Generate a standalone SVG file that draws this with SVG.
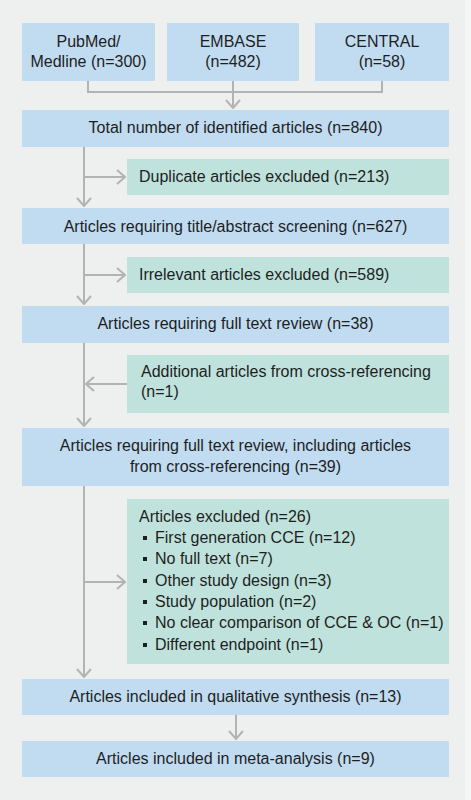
<svg xmlns="http://www.w3.org/2000/svg" width="471" height="800" viewBox="0 0 471 800">
<style>
.blue{fill:#c1dcf1}
.green{fill:#bfe3dc}
.t{font-family:"Liberation Sans",Arial,sans-serif;font-size:16px;fill:#1e1e1e}
.c{text-anchor:middle}
.ln{fill:none;stroke:#b3b3b3;stroke-width:2}
</style>
<defs>
<marker id="ah" viewBox="0 0 10 16" refX="9" refY="8" markerWidth="10" markerHeight="16" markerUnits="userSpaceOnUse" orient="auto">
<path d="M1,1 L9,8 L1,15" fill="none" stroke="#b3b3b3" stroke-width="2"/>
</marker>
</defs>
<rect width="471" height="800" fill="#f4f5f5"/>
<rect width="465" height="800" fill="#eef0ef"/>

<g id="connectors">
<path class="ln" d="M88,81 V92 H382 V81"/>
<path class="ln" d="M233,81 V108" marker-end="url(#ah)"/>
<path class="ln" d="M84,147 V206" marker-end="url(#ah)"/>
<path class="ln" d="M84,177 H125" marker-end="url(#ah)"/>
<path class="ln" d="M84,244 V304" marker-end="url(#ah)"/>
<path class="ln" d="M84,275 H125" marker-end="url(#ah)"/>
<path class="ln" d="M84,343 V426" marker-end="url(#ah)"/>
<path class="ln" d="M127,384 H86" marker-end="url(#ah)"/>
<path class="ln" d="M84,486 V677" marker-end="url(#ah)"/>
<path class="ln" d="M84,582 H125" marker-end="url(#ah)"/>
<path class="ln" d="M236,715 V739" marker-end="url(#ah)"/>
</g>

<g id="pubmed">
<rect class="blue" x="22" y="23" width="133" height="58"/>
<text class="t c" x="88.5" y="47">PubMed/</text>
<text class="t c" x="88.5" y="67">Medline (n=300)</text>
</g>
<g id="embase">
<rect class="blue" x="167" y="23" width="132" height="58"/>
<text class="t c" x="233" y="47">EMBASE</text>
<text class="t c" x="233" y="67">(n=482)</text>
</g>
<g id="central">
<rect class="blue" x="315" y="23" width="134" height="58"/>
<text class="t c" x="382" y="47">CENTRAL</text>
<text class="t c" x="382" y="67">(n=58)</text>
</g>
<g id="total">
<rect class="blue" x="22" y="110" width="427" height="37"/>
<text class="t c" x="235.5" y="133">Total number of identified articles (n=840)</text>
</g>
<g id="duplicate">
<rect class="green" x="127" y="159" width="322" height="36"/>
<text class="t" x="139" y="182">Duplicate articles excluded (n=213)</text>
</g>
<g id="screening">
<rect class="blue" x="22" y="208" width="427" height="36"/>
<text class="t c" x="235.5" y="232">Articles requiring title/abstract screening (n=627)</text>
</g>
<g id="irrelevant">
<rect class="green" x="127" y="257" width="322" height="36"/>
<text class="t" x="139" y="280">Irrelevant articles excluded (n=589)</text>
</g>
<g id="fulltext">
<rect class="blue" x="22" y="306" width="427" height="37"/>
<text class="t c" x="235.5" y="329">Articles requiring full text review (n=38)</text>
</g>
<g id="additional">
<rect class="green" x="127" y="355" width="322" height="58"/>
<text class="t" x="141" y="377">Additional articles from cross-referencing</text>
<text class="t" x="141" y="397">(n=1)</text>
</g>
<g id="fulltext2">
<rect class="blue" x="22" y="428" width="427" height="58"/>
<text class="t c" x="235.5" y="451">Articles requiring full text review, including articles</text>
<text class="t c" x="235.5" y="472">from cross-referencing (n=39)</text>
</g>
<g id="excluded">
<rect class="green" x="127" y="499" width="322" height="165"/>
<text class="t" x="139" y="522">Articles excluded (n=26)</text>
<g fill="#1e1e1e">
<rect x="143" y="536" width="4" height="4"/>
<rect x="143" y="557" width="4" height="4"/>
<rect x="143" y="579" width="4" height="4"/>
<rect x="143" y="600" width="4" height="4"/>
<rect x="143" y="621" width="4" height="4"/>
<rect x="143" y="643" width="4" height="4"/>
</g>
<text class="t" x="155" y="543">First generation CCE (n=12)</text>
<text class="t" x="155" y="564">No full text (n=7)</text>
<text class="t" x="155" y="586">Other study design (n=3)</text>
<text class="t" x="155" y="607">Study population (n=2)</text>
<text class="t" x="155" y="628">No clear comparison of CCE &amp; OC (n=1)</text>
<text class="t" x="155" y="650">Different endpoint (n=1)</text>
</g>
<g id="qualitative">
<rect class="blue" x="22" y="679" width="427" height="36"/>
<text class="t c" x="235.5" y="702">Articles included in qualitative synthesis (n=13)</text>
</g>
<g id="meta">
<rect class="blue" x="22" y="741" width="427" height="36"/>
<text class="t c" x="235.5" y="764">Articles included in meta-analysis (n=9)</text>
</g>
</svg>
